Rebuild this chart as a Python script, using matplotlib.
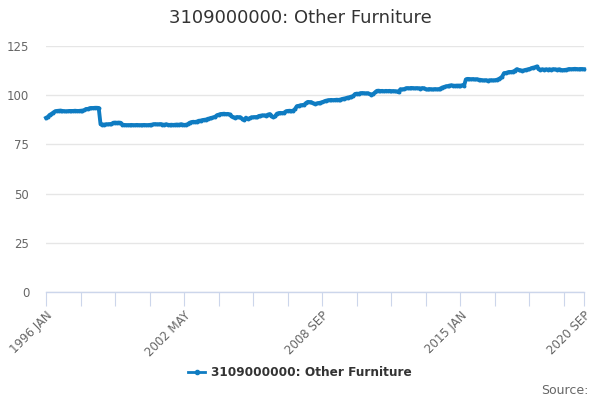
import numpy as np
import matplotlib
matplotlib.use("Agg")
import matplotlib.pyplot as plt
from matplotlib.lines import Line2D

# ===== Dados (índice mensal, 1996 JAN – 2020 SEP) =====
START_YEAR = 1996
MONTHS = ["JAN", "FEB", "MAR", "APR", "MAY", "JUN",
          "JUL", "AUG", "SEP", "OCT", "NOV", "DEC"]

v1996 = [88.5, 89.0, 90.0, 90.5, 91.2, 91.8, 92.0, 92.1, 92.2, 92.0, 91.9, 91.8]
v1997 = [91.9, 92.0, 92.0, 92.0, 92.1, 92.0, 92.0, 92.1, 92.2, 92.4, 93.0, 93.0]
v1998 = [93.4, 93.5, 93.5, 93.6, 93.6, 93.5, 85.2, 85.1, 85.1, 85.2, 85.2, 85.3]
v1999 = [85.4, 86.0, 86.1, 86.0, 86.1, 86.0, 85.0, 84.9, 84.8, 84.8, 84.8, 84.9]
v2000 = [84.8, 84.8, 84.9, 84.8, 84.8, 84.8, 84.9, 84.8, 84.8, 84.9, 85.0, 85.2]
v2001 = [85.3, 85.2, 85.2, 85.3, 85.1, 85.0, 85.2, 85.0, 84.9, 85.0, 84.9, 85.0]
v2002 = [85.1, 85.0, 85.2, 85.1, 84.9, 85.0, 85.3, 86.0, 86.3, 86.5, 86.4, 86.6]
v2003 = [87.0, 87.1, 87.3, 87.5, 87.6, 88.0, 88.2, 88.5, 88.7, 89.0, 89.8, 90.1]
v2004 = [90.4, 90.5, 90.6, 90.4, 90.5, 90.2, 89.4, 88.8, 88.6, 88.9, 88.8, 88.7]
v2005 = [88.0, 87.3, 88.6, 87.9, 88.3, 88.7, 88.8, 88.9, 88.7, 89.4, 89.6, 89.7]
v2006 = [89.7, 89.6, 90.1, 90.4, 89.6, 88.8, 89.2, 90.6, 90.9, 91.0, 90.9, 91.1]
v2007 = [91.8, 92.0, 92.1, 92.0, 92.1, 93.0, 94.4, 94.6, 94.8, 95.0, 95.1, 96.0]
v2008 = [96.6, 96.5, 96.4, 95.9, 95.6, 95.8, 96.0, 96.2, 96.5, 96.8, 97.2, 97.4]
v2009 = [97.5, 97.6, 97.5, 97.6, 97.7, 97.6, 97.8, 98.1, 98.3, 98.5, 98.8, 99.0]
v2010 = [99.3, 99.6, 100.6, 100.8, 100.7, 101.0, 101.1, 101.0, 100.9, 101.0, 100.6, 100.3]
v2011 = [100.6, 101.4, 102.2, 102.3, 102.1, 102.2, 102.0, 102.2, 102.1, 102.2, 102.0, 102.1]
v2012 = [102.0, 101.9, 101.5, 103.0, 102.9, 103.1, 103.5, 103.6, 103.5, 103.7, 103.6, 103.5]
v2013 = [103.6, 103.5, 103.4, 103.6, 103.5, 103.0, 102.9, 103.1, 103.0, 102.9, 103.1, 103.0]
v2014 = [103.0, 103.4, 103.9, 104.2, 104.5, 104.6, 104.9, 105.0, 104.9, 104.8, 104.9, 104.9]
v2015 = [104.9, 105.0, 104.8, 108.0, 108.3, 108.2, 108.1, 108.2, 108.0, 108.1, 107.9, 107.8]
v2016 = [107.6, 107.5, 107.6, 107.4, 107.5, 107.6, 107.5, 107.6, 107.8, 108.2, 108.7, 109.5]
v2017 = [111.2, 111.3, 111.6, 111.8, 111.8, 112.0, 112.5, 113.2, 112.9, 112.6, 112.5, 112.6]
v2018 = [112.9, 113.1, 113.3, 113.7, 114.0, 114.2, 114.6, 113.2, 113.0, 113.1, 113.0, 113.1]
v2019 = [113.0, 113.1, 113.0, 113.2, 113.1, 113.0, 113.1, 113.0, 112.6, 112.8, 112.9, 113.1]
v2020 = [113.3, 113.2, 113.3, 113.4, 113.3, 113.2, 113.3, 113.3, 113.2]

SERIE = "3109000000: Other Furniture"
COR = "#0f7cc2"

valores = (v1996 + v1997 + v1998 + v1999 + v2000 + v2001 + v2002 + v2003
           + v2004 + v2005 + v2006 + v2007 + v2008 + v2009 + v2010 + v2011
           + v2012 + v2013 + v2014 + v2015 + v2016 + v2017 + v2018 + v2019
           + v2020)
rotulos = [f"{START_YEAR + i // 12} {MONTHS[i % 12]}" for i in range(len(valores))]
x = np.arange(len(valores))
ultimo = len(valores) - 1

# ticks a cada 19 meses, rótulo a cada 76 e no último ponto
tick_pos = list(range(0, ultimo, 19)) + [ultimo]
tick_lab = [rotulos[p] if (p % 76 == 0 or p == ultimo) else "" for p in tick_pos]

fig = plt.figure(figsize=(6, 4), dpi=100)
ax = fig.add_axes([0.0767, 0.27, 0.8966, 0.615])

ax.plot(x, valores, color=COR, linewidth=2.8, marker="o", markersize=1.8,
        clip_on=False, zorder=3)

ax.set_xlim(0, ultimo)
ax.set_ylim(0, 125)
ax.set_yticks([0, 25, 50, 75, 100, 125])
ax.grid(axis="y", color="#e6e6e6", linewidth=1)
ax.set_axisbelow(True)

for s in ["top", "right", "left"]:
    ax.spines[s].set_visible(False)
ax.spines["bottom"].set_color("#ccd6eb")
ax.spines["bottom"].set_linewidth(1)

ax.set_xticks(tick_pos)
ax.set_xticklabels(tick_lab, rotation=45, ha="right", rotation_mode="anchor",
                   fontsize=8.5, color="#666666")
ax.tick_params(axis="x", length=10, color="#ccd6eb", pad=2)
ax.tick_params(axis="y", length=0, labelsize=8.5, labelcolor="#666666", pad=12)

fig.text(0.5, 0.955, SERIE, ha="center", va="center", fontsize=13, color="#333333")

handle = Line2D([0], [0], color=COR, linewidth=2, marker="o", markersize=3)
fig.legend(handles=[handle], labels=[SERIE], loc="center", bbox_to_anchor=(0.5, 0.068),
           frameon=False, handlelength=1.4, handletextpad=0.5,
           prop={"weight": "bold", "size": 8.7}, labelcolor="#333333")

fig.text(0.98, 0.025, "Source:", ha="right", va="center", fontsize=9, color="#666666")

fig.savefig("out.png", dpi=100)
